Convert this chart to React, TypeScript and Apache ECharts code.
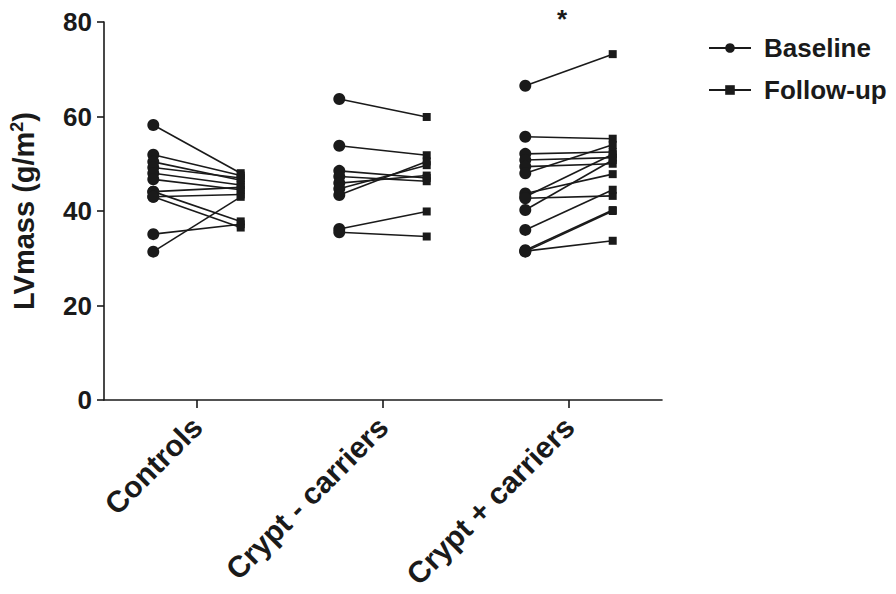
import React, { useEffect, useRef } from "react";
import * as echarts from "echarts";

const categories = ["Controls", "Crypt - carriers", "Crypt + carriers"];
const yTicks = [0, 20, 40, 60, 80];

const controlsBaseline = [58.2, 51.9, 50.4, 49.2, 48.0, 46.7, 44.1, 44.1, 43.0, 43.0, 35.1, 31.4];
const controlsFollowUp = [48.0, 47.5, 46.5, 47.0, 45.5, 44.5, 45.0, 37.8, 43.5, 36.5, 37.2, 43.0];

const cryptMinusBaseline = [63.7, 53.8, 48.5, 47.3, 45.9, 44.7, 43.4, 36.2, 35.5];
const cryptMinusFollowUp = [59.9, 51.8, 47.0, 46.3, 47.5, 49.7, 50.5, 39.9, 34.6];

const cryptPlusBaseline = [66.5, 55.7, 52.1, 50.8, 49.4, 48.0, 43.7, 43.0, 42.7, 40.2, 36.0, 31.7, 31.4, 31.5];
const cryptPlusFollowUp = [73.2, 55.3, 52.5, 51.3, 50.0, 54.0, 47.8, 52.0, 43.2, 50.8, 44.5, 40.2, 40.0, 33.7];

const groups = [
  { baseline: controlsBaseline, followUp: controlsFollowUp },
  { baseline: cryptMinusBaseline, followUp: cryptMinusFollowUp },
  { baseline: cryptPlusBaseline, followUp: cryptPlusFollowUp },
];

const FONT = "'Liberation Sans', Arial, Helvetica, sans-serif";
const INK = "#1a1a1a";

export default function App() {
  const ref = useRef<HTMLDivElement>(null);
  useEffect(() => {
    document.body.style.margin = "0";
    const chart = echarts.init(ref.current!, null, { renderer: "svg" });
    const series: any[] = [];
    groups.forEach((g, gi) => {
      g.baseline.forEach((b, i) => {
        series.push({
          type: "line",
          xAxisIndex: 1,
          silent: true,
          lineStyle: { color: INK, width: 1.6 },
          itemStyle: { color: INK },
          data: [
            { value: [gi + 0.265, b], symbol: "circle", symbolSize: 12 },
            { value: [gi + 0.735, g.followUp[i]], symbol: "rect", symbolSize: 8 },
          ],
        });
      });
    });
    series.push({
      name: "Baseline",
      type: "line",
      xAxisIndex: 1,
      symbol: "circle",
      symbolSize: 12,
      lineStyle: { color: INK, width: 1.6 },
      itemStyle: { color: INK },
      data: [],
    });
    series.push({
      name: "Follow-up",
      type: "line",
      xAxisIndex: 1,
      symbol: "rect",
      symbolSize: 8,
      lineStyle: { color: INK, width: 1.6 },
      itemStyle: { color: INK },
      data: [],
    });

    chart.setOption({
      animation: false,
      backgroundColor: "#ffffff",
      grid: { left: 98, right: 234, top: 22, bottom: 194, containLabel: false },
      legend: {
        orient: "vertical",
        left: 703,
        top: 30,
        itemWidth: 42,
        itemHeight: 12,
        itemGap: 16,
        data: ["Baseline", "Follow-up"],
        textStyle: { fontFamily: FONT, fontWeight: "bold", fontSize: 26, color: INK, padding: [0, 0, 0, 8] },
      },
      xAxis: [
        {
          type: "category",
          data: categories,
          boundaryGap: true,
          axisLine: { show: true, lineStyle: { color: INK, width: 1.6 } },
          axisTick: { show: true, alignWithLabel: true, length: 8, lineStyle: { color: INK, width: 1.6 } },
          axisLabel: {
            rotate: 45,
            interval: 0,
            margin: 22,
            fontFamily: FONT,
            fontWeight: "bold",
            fontSize: 30,
            color: INK,
          },
        },
        {
          type: "value",
          min: 0,
          max: 3,
          show: false,
        },
      ],
      yAxis: {
        type: "value",
        min: 0,
        max: 80,
        interval: 20,
        name: "{t|LVmass (g/m}{s|2}{t|)}",
        nameLocation: "middle",
        nameGap: 64,
        nameTextStyle: {
          fontFamily: FONT,
          fontWeight: "bold",
          fontSize: 29,
          color: INK,
          rich: {
            t: { fontFamily: FONT, fontWeight: "bold", fontSize: 29, color: INK },
            s: { fontFamily: FONT, fontWeight: "bold", fontSize: 18, color: INK, verticalAlign: "bottom", padding: [0, 0, 14, 0] },
          },
        },
        axisLine: { show: true, lineStyle: { color: INK, width: 1.6 } },
        axisTick: { show: true, length: 7, lineStyle: { color: INK, width: 1.6 } },
        splitLine: { show: false },
        axisLabel: {
          fontFamily: FONT,
          fontWeight: "bold",
          fontSize: 26,
          color: INK,
          margin: 12,
          formatter: (v: number) => (yTicks.includes(v) ? String(v) : ""),
        },
      },
      graphic: [
        {
          type: "text",
          left: 557,
          top: 6,
          style: { text: "*", font: `bold 26px ${FONT}`, fill: INK },
        },
      ],
      series,
    });
    return () => chart.dispose();
  }, []);
  return <div ref={ref} style={{ width: 896, height: 594 }} />;
}
